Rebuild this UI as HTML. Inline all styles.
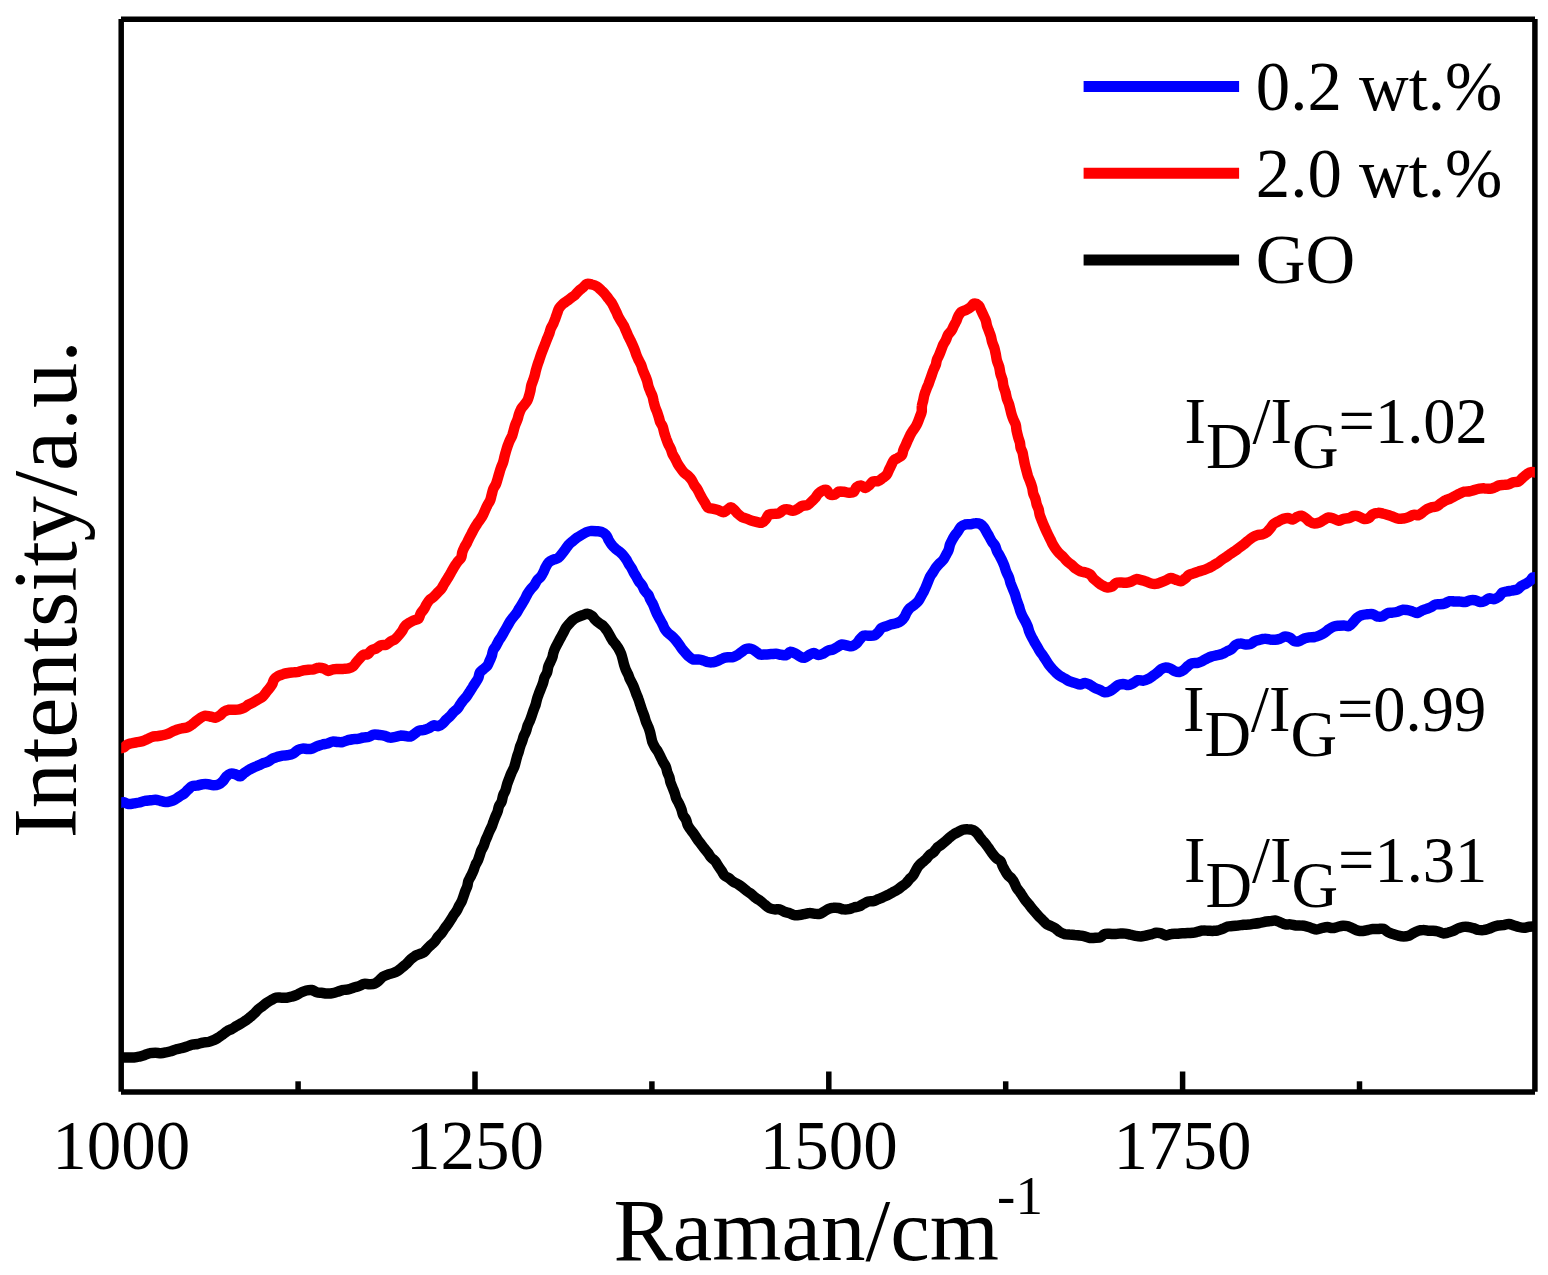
<!DOCTYPE html>
<html><head><meta charset="utf-8"><title>Raman spectra</title>
<style>
html,body{margin:0;padding:0;background:#fff;}
svg{display:block;}
text{font-family:"Liberation Serif",serif;fill:#000;}
</style></head>
<body>
<svg width="1548" height="1275" viewBox="0 0 1548 1275">
<rect width="1548" height="1275" fill="#fff"/>
<g stroke="#000" stroke-width="5.5" fill="none" stroke-linecap="butt">
<line x1="121.2" y1="19" x2="121.2" y2="1091.8"/>
<line x1="1534.9" y1="19" x2="1534.9" y2="1091.8"/>
<line x1="121" y1="19.3" x2="1535" y2="19.3"/>
<line x1="121" y1="1092.1" x2="1535" y2="1092.1"/>
<line x1="475.0" y1="1092.1" x2="475.0" y2="1071.5"/><line x1="828.8" y1="1092.1" x2="828.8" y2="1071.5"/><line x1="1182.6" y1="1092.1" x2="1182.6" y2="1071.5"/><line x1="298.1" y1="1092.1" x2="298.1" y2="1081.3"/><line x1="651.9" y1="1092.1" x2="651.9" y2="1081.3"/><line x1="1005.7" y1="1092.1" x2="1005.7" y2="1081.3"/><line x1="1359.5" y1="1092.1" x2="1359.5" y2="1081.3"/>
</g>
<defs><clipPath id="plotclip"><rect x="121.2" y="0" width="1413.7" height="1275"/></clipPath></defs>
<g fill="none" stroke-width="10.5" stroke-linejoin="round" stroke-linecap="butt" clip-path="url(#plotclip)">
<path stroke="#000" d="M113.2,1057.2C114.1,1057.3 116.8,1057.6 118.5,1057.6C120.3,1057.6 121.8,1057.4 123.6,1057.4C125.3,1057.3 127.3,1057.5 129.0,1057.5C130.8,1057.5 132.5,1057.7 134.2,1057.5C136.0,1057.4 137.7,1057.0 139.5,1056.5C141.3,1056.1 143.1,1055.5 144.9,1054.9C146.6,1054.4 148.4,1053.5 150.1,1053.2C151.9,1052.8 153.7,1052.8 155.4,1052.8C157.2,1052.8 159.0,1053.3 160.7,1053.3C162.5,1053.2 164.2,1052.8 166.0,1052.4C167.8,1052.1 169.6,1051.7 171.3,1051.1C173.1,1050.6 174.7,1049.8 176.5,1049.3C178.2,1048.7 180.0,1048.5 181.8,1048.0C183.6,1047.6 185.3,1047.1 187.0,1046.5C188.8,1046.0 190.4,1045.1 192.2,1044.7C193.9,1044.3 195.8,1044.3 197.6,1044.0C199.4,1043.6 201.1,1043.0 202.9,1042.6C204.7,1042.3 206.7,1042.4 208.4,1042.0C210.2,1041.6 211.9,1040.9 213.6,1040.2C215.3,1039.4 216.9,1038.5 218.5,1037.5C220.0,1036.5 221.5,1035.4 222.9,1034.4C224.3,1033.3 225.6,1032.1 227.1,1031.2C228.6,1030.3 230.3,1029.8 231.8,1029.0C233.4,1028.1 234.9,1027.0 236.4,1026.1C238.0,1025.2 239.6,1024.3 241.2,1023.4C242.7,1022.4 244.3,1021.5 245.9,1020.4C247.4,1019.3 249.0,1018.0 250.4,1016.9C251.8,1015.7 253.0,1014.7 254.3,1013.5C255.6,1012.3 256.7,1010.7 258.1,1009.5C259.4,1008.3 260.9,1007.4 262.4,1006.3C263.8,1005.2 265.1,1003.9 266.6,1002.9C268.1,1001.9 269.7,1000.9 271.3,1000.0C272.9,999.2 274.6,998.1 276.3,997.7C278.0,997.3 279.8,997.7 281.6,997.7C283.3,997.7 285.1,997.9 286.8,997.7C288.5,997.5 290.3,997.1 291.9,996.6C293.6,996.2 295.2,995.6 296.8,994.9C298.4,994.2 300.0,993.0 301.6,992.3C303.2,991.6 304.7,990.9 306.3,990.5C308.0,990.1 309.9,989.7 311.6,990.0C313.4,990.3 315.0,991.7 316.7,992.2C318.4,992.7 320.1,992.6 321.9,992.8C323.6,993.1 325.5,993.5 327.3,993.6C329.1,993.6 330.9,993.6 332.7,993.2C334.4,992.9 336.2,992.2 337.9,991.6C339.6,991.1 341.2,990.3 343.0,990.0C344.7,989.6 346.8,989.7 348.6,989.3C350.4,989.0 351.9,988.1 353.7,987.6C355.4,987.0 357.2,986.7 358.9,986.1C360.7,985.5 362.3,984.2 364.0,983.9C365.8,983.6 367.8,984.3 369.5,984.2C371.3,984.2 373.1,984.3 374.6,983.7C376.2,983.1 377.7,981.7 379.0,980.6C380.3,979.5 381.2,977.9 382.6,976.9C384.1,975.9 386.1,975.2 387.8,974.6C389.5,973.9 391.1,973.7 392.8,973.1C394.5,972.5 396.3,971.8 397.8,970.8C399.4,969.9 400.8,968.5 402.2,967.4C403.6,966.2 405.1,965.0 406.5,963.8C407.8,962.5 408.9,960.9 410.3,959.7C411.7,958.4 413.2,957.2 414.6,956.3C416.1,955.4 417.5,955.0 419.0,954.3C420.5,953.7 422.3,953.3 423.7,952.4C425.1,951.4 426.1,949.8 427.3,948.5C428.6,947.3 429.8,946.0 431.1,944.8C432.4,943.6 433.8,942.6 434.9,941.3C436.1,940.0 436.7,938.3 437.9,936.9C439.0,935.5 440.5,934.4 441.7,933.0C442.9,931.5 443.9,929.6 444.9,928.1C446.0,926.6 447.1,925.4 448.1,923.9C449.1,922.5 450.1,920.9 451.1,919.3C452.1,917.7 453.1,915.9 454.1,914.4C455.1,912.9 456.2,911.7 457.0,910.2C457.9,908.7 458.4,907.0 459.3,905.5C460.1,903.9 461.2,902.5 461.9,900.9C462.6,899.3 463.0,897.6 463.6,895.9C464.2,894.3 464.7,892.7 465.3,891.0C465.9,889.4 466.8,887.9 467.3,886.1C467.8,884.4 467.8,882.5 468.5,880.7C469.2,879.0 470.4,877.3 471.2,875.5C472.1,873.7 473.0,871.6 473.7,869.9C474.4,868.1 474.7,866.6 475.4,865.1C476.1,863.5 477.2,862.1 477.9,860.5C478.6,859.0 479.1,857.3 479.6,855.6C480.2,854.0 480.5,852.3 481.2,850.6C481.9,849.0 483.0,847.5 483.7,845.9C484.4,844.3 484.8,842.5 485.4,840.8C486.0,839.2 486.8,837.6 487.5,835.9C488.2,834.3 488.8,832.6 489.6,831.0C490.3,829.4 491.3,827.8 491.9,826.2C492.6,824.5 493.0,822.7 493.7,821.1C494.3,819.4 495.0,817.7 495.6,816.1C496.3,814.4 497.2,812.8 497.7,811.2C498.3,809.5 498.3,807.7 499.0,806.1C499.6,804.5 500.9,803.5 501.6,801.7C502.3,800.0 502.4,797.7 503.0,795.7C503.7,793.8 504.8,792.1 505.5,790.2C506.2,788.3 506.5,786.3 507.1,784.3C507.7,782.4 508.5,780.5 509.2,778.6C509.9,776.7 510.6,774.8 511.4,773.0C512.2,771.1 513.3,769.4 514.1,767.4C514.8,765.5 515.3,763.3 515.8,761.5C516.3,759.6 516.6,758.2 517.1,756.5C517.6,754.8 518.3,753.2 518.8,751.5C519.3,749.8 519.6,748.0 520.2,746.4C520.7,744.7 521.6,743.1 522.1,741.5C522.7,739.8 523.0,738.3 523.6,736.6C524.3,734.9 525.4,732.9 526.1,731.1C526.8,729.2 527.0,727.3 527.7,725.5C528.3,723.7 529.3,722.1 530.0,720.4C530.8,718.6 531.3,716.9 531.9,715.1C532.5,713.3 533.1,711.5 533.7,709.8C534.3,708.0 535.1,706.3 535.7,704.5C536.2,702.8 536.5,700.9 537.0,699.1C537.5,697.3 538.2,695.6 538.8,693.8C539.5,692.1 540.2,690.3 540.9,688.5C541.6,686.7 542.4,685.0 543.0,683.1C543.6,681.3 543.8,679.2 544.5,677.4C545.2,675.7 546.5,674.1 547.1,672.4C547.7,670.7 547.7,668.7 548.2,667.0C548.7,665.3 549.6,663.7 550.3,662.1C551.0,660.5 551.9,658.9 552.4,657.3C552.9,655.7 552.9,654.1 553.5,652.4C554.0,650.7 554.9,648.7 555.7,647.0C556.6,645.3 557.5,643.7 558.4,642.0C559.2,640.4 560.0,638.8 560.9,637.3C561.7,635.7 562.5,634.4 563.3,632.8C564.2,631.2 565.0,629.1 566.0,627.6C567.0,626.1 568.2,624.9 569.3,623.6C570.5,622.3 571.6,621.0 572.9,620.0C574.2,618.9 575.6,618.2 577.2,617.4C578.8,616.6 580.7,615.9 582.4,615.3C584.1,614.7 585.8,613.6 587.5,613.7C589.1,613.8 590.7,614.8 592.0,615.8C593.3,616.8 594.0,618.5 595.2,619.7C596.4,621.0 597.9,622.2 599.2,623.2C600.6,624.3 602.1,625.0 603.4,626.1C604.6,627.3 605.7,628.9 606.7,630.3C607.8,631.8 608.6,633.4 609.5,635.0C610.4,636.6 611.1,638.2 612.1,639.7C613.0,641.2 614.3,642.6 615.4,644.0C616.4,645.5 617.5,646.8 618.4,648.4C619.4,650.0 620.3,651.9 621.1,653.8C621.8,655.7 622.3,657.8 622.8,659.6C623.3,661.5 623.6,663.1 624.1,664.8C624.6,666.5 625.2,668.2 625.9,669.9C626.5,671.5 627.5,673.0 628.2,674.5C628.9,676.1 629.2,677.7 629.9,679.2C630.6,680.8 631.6,682.2 632.3,683.7C633.1,685.2 633.7,686.7 634.3,688.3C634.9,689.8 635.3,691.3 636.0,693.0C636.6,694.8 637.6,696.8 638.3,698.8C639.1,700.7 639.6,702.6 640.2,704.6C640.8,706.5 641.5,708.4 642.1,710.3C642.8,712.2 643.6,714.1 644.3,716.1C644.9,718.0 645.5,720.2 646.1,722.0C646.8,723.8 647.6,725.2 648.3,726.9C648.9,728.5 649.5,730.2 650.0,732.0C650.5,733.7 650.8,735.5 651.2,737.2C651.6,738.9 651.8,740.5 652.4,742.2C653.1,744.0 654.2,745.9 655.1,747.5C656.1,749.1 657.1,750.2 658.0,751.8C658.9,753.4 659.9,755.5 660.7,757.1C661.5,758.7 662.0,760.1 662.9,761.7C663.7,763.3 665.1,764.8 665.8,766.6C666.6,768.4 666.8,770.8 667.4,772.5C668.0,774.3 668.9,775.6 669.4,777.2C669.9,778.8 669.9,780.4 670.4,782.1C671.0,783.9 671.9,785.9 672.6,787.8C673.3,789.6 674.1,791.4 674.7,793.2C675.4,795.0 675.6,796.9 676.3,798.7C677.0,800.4 678.2,802.0 679.0,803.7C679.9,805.4 680.7,807.2 681.3,809.0C682.0,810.8 682.2,812.9 682.9,814.7C683.7,816.6 685.3,818.1 686.1,819.9C686.9,821.7 687.0,823.9 687.9,825.6C688.7,827.3 690.1,828.8 691.2,830.4C692.3,831.9 693.5,833.4 694.6,835.0C695.7,836.6 696.6,838.2 697.7,839.8C698.8,841.3 700.0,842.7 701.1,844.2C702.2,845.6 703.1,846.9 704.3,848.4C705.4,849.8 706.8,851.4 707.9,852.9C709.1,854.4 709.8,856.1 711.1,857.5C712.3,858.8 714.0,859.8 715.2,861.2C716.4,862.6 717.2,864.4 718.3,866.0C719.3,867.6 720.5,869.2 721.6,870.8C722.6,872.4 723.3,874.3 724.6,875.6C725.8,876.8 727.6,877.2 729.1,878.3C730.5,879.3 731.8,880.8 733.4,881.8C734.9,882.8 736.6,883.4 738.2,884.4C739.7,885.4 741.2,886.5 742.7,887.6C744.1,888.7 745.4,889.9 746.9,891.0C748.4,892.2 750.1,893.2 751.6,894.3C753.1,895.5 754.5,897.0 756.0,898.1C757.6,899.2 759.3,900.1 760.8,901.2C762.3,902.3 763.5,903.7 765.0,904.8C766.4,906.0 767.8,907.3 769.4,908.1C771.0,908.9 772.8,909.2 774.5,909.4C776.2,909.6 777.9,908.9 779.5,909.3C781.2,909.7 782.6,911.1 784.3,911.7C786.0,912.3 787.8,912.6 789.5,913.1C791.1,913.7 792.6,914.8 794.2,915.1C795.9,915.4 797.6,915.2 799.3,915.0C801.0,914.9 802.8,914.4 804.5,914.0C806.3,913.7 807.9,913.1 809.6,913.1C811.3,913.0 812.9,913.7 814.6,913.8C816.3,913.9 818.1,914.2 819.8,913.8C821.4,913.4 822.9,912.2 824.4,911.4C825.9,910.6 827.2,909.4 828.7,908.8C830.2,908.2 831.8,907.9 833.5,907.8C835.1,907.6 836.9,907.7 838.6,908.0C840.3,908.3 841.9,909.2 843.6,909.4C845.3,909.6 847.1,909.5 848.8,909.2C850.5,908.9 852.1,907.9 853.8,907.5C855.5,907.0 857.5,907.0 859.1,906.4C860.7,905.8 861.9,904.7 863.5,903.9C865.0,903.1 866.6,902.0 868.3,901.5C870.0,901.0 871.9,901.5 873.5,901.1C875.2,900.7 876.7,899.8 878.3,899.2C879.8,898.5 881.4,897.9 883.0,897.2C884.6,896.5 886.3,895.8 887.8,895.0C889.4,894.2 890.8,893.4 892.3,892.6C893.9,891.7 895.6,890.9 897.1,889.9C898.7,888.9 900.1,887.7 901.6,886.6C903.0,885.5 904.5,884.7 905.8,883.5C907.1,882.3 908.2,880.6 909.3,879.3C910.5,878.1 911.9,877.2 912.9,875.8C914.0,874.4 914.7,872.6 915.6,871.0C916.5,869.4 917.3,867.7 918.4,866.3C919.4,864.9 920.6,863.9 921.9,862.7C923.1,861.6 924.6,860.6 925.8,859.4C927.1,858.1 928.0,856.5 929.3,855.3C930.7,854.1 932.4,853.4 933.7,852.2C935.0,850.9 935.9,849.0 937.1,847.7C938.4,846.5 940.1,845.6 941.5,844.5C942.9,843.4 944.3,842.3 945.6,841.1C947.0,840.0 948.2,838.7 949.5,837.6C950.9,836.5 952.1,835.3 953.6,834.4C955.0,833.5 956.6,832.8 958.1,832.1C959.6,831.3 961.1,830.3 962.7,829.8C964.3,829.3 966.0,829.2 967.7,829.3C969.5,829.3 971.5,829.5 973.1,830.1C974.7,830.8 976.0,832.1 977.2,833.4C978.4,834.7 979.2,836.4 980.3,837.8C981.4,839.2 982.6,840.4 983.7,841.7C984.8,843.0 985.9,844.3 986.9,845.7C987.9,847.1 988.9,848.6 989.9,850.0C990.9,851.4 991.8,852.9 992.9,854.2C994.0,855.6 995.1,857.0 996.3,858.1C997.6,859.3 999.6,859.9 1000.6,861.2C1001.6,862.5 1001.8,864.3 1002.5,865.9C1003.2,867.4 1004.1,868.9 1004.9,870.4C1005.8,871.9 1006.7,873.6 1007.8,875.0C1008.9,876.3 1010.4,877.2 1011.5,878.4C1012.6,879.7 1013.5,881.1 1014.3,882.7C1015.2,884.2 1015.7,886.1 1016.6,887.7C1017.6,889.3 1018.9,890.6 1019.9,892.0C1020.9,893.5 1021.8,895.0 1022.8,896.5C1023.7,897.9 1024.6,899.3 1025.6,900.6C1026.7,901.9 1027.8,903.1 1028.9,904.4C1029.9,905.8 1030.9,907.2 1032.0,908.5C1033.1,909.9 1034.4,911.3 1035.6,912.7C1036.7,914.0 1037.7,915.2 1038.9,916.5C1040.1,917.7 1041.4,918.9 1042.6,920.1C1043.8,921.3 1044.9,922.8 1046.3,923.8C1047.8,924.8 1049.5,925.3 1051.1,926.1C1052.7,926.9 1054.3,927.7 1055.8,928.7C1057.2,929.7 1058.2,931.0 1059.7,931.9C1061.1,932.8 1062.8,933.6 1064.4,934.1C1066.1,934.5 1067.8,934.5 1069.5,934.6C1071.2,934.8 1072.9,934.8 1074.6,935.0C1076.3,935.1 1077.9,935.2 1079.5,935.5C1081.2,935.7 1083.0,935.9 1084.7,936.3C1086.4,936.7 1088.2,937.7 1090.0,938.0C1091.8,938.2 1093.8,938.0 1095.6,937.8C1097.4,937.7 1099.2,937.7 1100.6,937.1C1102.1,936.4 1103.0,934.6 1104.4,934.1C1105.9,933.5 1107.7,933.8 1109.4,933.8C1111.0,933.8 1112.7,934.1 1114.5,934.1C1116.2,934.1 1118.0,933.6 1119.8,933.6C1121.6,933.5 1123.3,933.4 1125.1,933.6C1126.8,933.8 1128.6,934.3 1130.3,934.7C1132.0,935.0 1133.7,935.6 1135.5,935.9C1137.3,936.2 1139.1,936.4 1140.8,936.4C1142.6,936.3 1144.4,935.8 1146.2,935.5C1147.9,935.2 1149.6,934.8 1151.3,934.3C1153.0,933.9 1154.7,933.0 1156.4,932.8C1158.0,932.7 1159.7,933.0 1161.4,933.4C1163.0,933.9 1164.6,935.3 1166.3,935.4C1167.9,935.5 1169.8,934.2 1171.5,934.0C1173.3,933.7 1175.1,933.9 1176.9,933.8C1178.7,933.7 1180.7,933.4 1182.4,933.3C1184.2,933.2 1185.9,933.2 1187.6,933.1C1189.3,933.1 1191.0,933.0 1192.7,932.8C1194.4,932.6 1196.0,932.1 1197.7,931.7C1199.3,931.3 1200.9,930.7 1202.6,930.6C1204.3,930.4 1205.9,930.6 1207.6,930.7C1209.3,930.7 1210.9,930.9 1212.6,930.9C1214.3,930.8 1215.9,930.8 1217.6,930.5C1219.2,930.1 1220.9,929.4 1222.6,928.8C1224.3,928.1 1226.0,927.0 1227.7,926.5C1229.4,926.1 1231.0,926.2 1232.7,926.0C1234.4,925.8 1236.1,925.6 1238.0,925.5C1239.8,925.3 1241.7,925.0 1243.5,924.8C1245.4,924.7 1247.1,924.7 1248.9,924.6C1250.6,924.4 1252.6,924.0 1254.3,923.7C1256.1,923.5 1257.7,923.3 1259.5,923.0C1261.2,922.6 1262.9,922.2 1264.7,921.8C1266.5,921.5 1268.5,921.3 1270.2,921.1C1272.0,920.9 1273.6,920.3 1275.2,920.5C1276.8,920.7 1278.3,921.6 1280.0,922.2C1281.6,922.8 1283.5,924.0 1285.3,924.3C1287.0,924.7 1288.5,924.2 1290.3,924.4C1292.1,924.6 1294.1,925.3 1295.9,925.5C1297.7,925.7 1299.5,925.4 1301.3,925.6C1303.1,925.7 1304.8,925.9 1306.4,926.3C1308.1,926.7 1309.6,927.5 1311.3,928.0C1313.0,928.5 1314.9,929.4 1316.7,929.4C1318.5,929.4 1320.3,928.4 1322.0,928.0C1323.8,927.6 1325.7,927.1 1327.4,927.1C1329.2,927.2 1330.8,928.2 1332.5,928.1C1334.2,928.1 1335.7,927.4 1337.4,927.0C1339.1,926.6 1341.1,925.8 1342.9,925.7C1344.6,925.6 1346.3,925.8 1348.0,926.3C1349.7,926.8 1351.6,927.9 1353.2,928.6C1354.9,929.3 1356.4,930.2 1358.0,930.6C1359.6,931.0 1361.4,931.1 1363.0,931.0C1364.7,930.9 1366.4,930.3 1368.0,930.0C1369.7,929.7 1371.3,929.1 1373.0,928.9C1374.7,928.8 1376.5,929.0 1378.2,929.0C1380.0,929.0 1381.8,928.3 1383.4,928.8C1385.0,929.3 1386.3,931.1 1387.8,931.9C1389.3,932.8 1390.9,933.3 1392.6,933.9C1394.3,934.6 1396.3,935.2 1398.2,935.6C1400.0,936.1 1402.0,936.5 1403.7,936.5C1405.5,936.5 1407.1,936.3 1408.7,935.8C1410.3,935.2 1411.6,934.1 1413.2,933.3C1414.7,932.4 1416.3,931.4 1417.9,930.9C1419.6,930.3 1421.4,930.0 1423.1,930.0C1424.8,929.9 1426.6,930.6 1428.3,930.8C1429.9,930.9 1431.3,930.7 1433.0,930.8C1434.6,930.9 1436.4,931.1 1438.1,931.5C1439.8,932.0 1441.5,933.2 1443.2,933.4C1444.9,933.5 1446.5,932.9 1448.2,932.5C1449.9,932.0 1451.6,931.5 1453.3,930.8C1454.9,930.1 1456.5,929.0 1458.2,928.4C1459.9,927.7 1461.6,927.2 1463.3,926.9C1465.0,926.7 1466.7,926.7 1468.4,927.0C1470.1,927.2 1471.6,927.7 1473.3,928.2C1474.9,928.6 1476.5,929.4 1478.2,929.8C1479.9,930.1 1481.6,930.3 1483.4,930.1C1485.1,930.0 1486.9,929.4 1488.5,928.9C1490.2,928.3 1491.5,927.6 1493.1,927.0C1494.7,926.5 1496.5,925.8 1498.2,925.5C1499.9,925.2 1501.8,925.3 1503.6,925.1C1505.4,924.8 1507.2,923.9 1508.9,924.0C1510.7,924.1 1512.2,925.0 1513.9,925.5C1515.6,926.0 1517.2,926.6 1518.9,927.0C1520.6,927.4 1522.3,927.8 1524.0,927.8C1525.7,927.7 1527.3,927.0 1529.1,926.8C1530.8,926.6 1532.5,926.6 1534.3,926.5C1536.1,926.4 1538.3,926.1 1539.7,926.2C1541.1,926.2 1542.4,926.5 1542.9,926.6"/>
<path stroke="#0000ff" d="M113.2,802.3C114.1,802.4 116.8,802.9 118.5,802.9C120.3,802.9 122.1,802.0 123.7,802.2C125.3,802.4 126.7,803.8 128.4,804.0C130.1,804.2 132.1,803.7 133.9,803.4C135.8,803.1 137.7,802.9 139.5,802.5C141.3,802.0 143.0,801.2 144.9,800.9C146.7,800.5 148.7,800.5 150.5,800.3C152.3,800.1 153.9,799.7 155.5,799.8C157.2,799.9 158.9,800.5 160.5,800.9C162.1,801.3 163.6,802.0 165.2,802.0C166.8,802.1 168.5,801.7 170.1,801.3C171.8,800.9 173.6,800.3 175.2,799.4C176.7,798.6 178.1,797.4 179.6,796.4C181.1,795.4 182.8,794.6 184.2,793.5C185.6,792.4 186.7,790.9 188.0,789.7C189.3,788.5 190.5,787.0 192.0,786.3C193.6,785.6 195.6,785.9 197.4,785.5C199.2,785.2 200.9,784.4 202.7,784.2C204.5,784.0 206.4,784.0 208.2,784.2C209.9,784.4 211.7,785.3 213.4,785.3C215.1,785.3 216.8,785.2 218.3,784.5C219.9,783.8 221.5,782.5 222.8,781.2C224.1,779.9 224.9,778.0 226.1,776.7C227.3,775.5 228.7,774.1 230.2,773.7C231.8,773.2 233.7,773.7 235.3,774.2C237.0,774.6 238.6,776.5 240.1,776.3C241.6,776.1 242.9,774.0 244.3,772.9C245.8,771.9 247.2,770.9 248.7,770.0C250.3,769.1 252.1,768.3 253.7,767.5C255.2,766.8 256.7,766.2 258.2,765.5C259.8,764.8 261.4,764.0 263.0,763.3C264.7,762.7 266.6,762.3 268.2,761.5C269.7,760.8 270.9,759.4 272.4,758.7C273.9,757.9 275.6,757.5 277.3,756.9C279.1,756.4 280.9,755.9 282.6,755.6C284.4,755.3 286.2,755.5 287.9,755.1C289.7,754.8 291.6,754.4 293.2,753.6C294.8,752.8 296.1,750.9 297.7,750.1C299.3,749.2 300.9,748.8 302.5,748.6C304.2,748.4 305.9,749.0 307.5,749.0C309.2,749.0 310.9,748.9 312.5,748.4C314.1,747.9 315.6,746.9 317.3,746.2C319.0,745.6 320.7,744.9 322.5,744.5C324.2,744.0 326.0,744.0 327.7,743.5C329.3,743.0 330.7,741.8 332.3,741.6C334.0,741.3 335.9,741.9 337.6,742.0C339.3,742.1 341.0,742.3 342.7,742.0C344.4,741.7 346.0,740.7 347.7,740.2C349.4,739.8 350.9,739.5 352.7,739.2C354.4,739.0 356.3,739.2 358.0,738.9C359.8,738.6 361.5,737.8 363.3,737.5C365.1,737.1 367.1,737.2 368.8,736.8C370.6,736.3 372.0,734.9 373.7,734.6C375.5,734.3 377.5,734.8 379.4,735.0C381.2,735.2 383.1,735.4 384.9,735.8C386.6,736.3 388.2,737.4 390.0,737.6C391.7,737.8 393.8,737.2 395.5,736.9C397.3,736.6 398.8,735.8 400.5,735.6C402.2,735.5 403.9,735.9 405.6,736.0C407.3,736.2 408.9,736.9 410.4,736.5C411.9,736.2 413.2,734.8 414.6,733.8C416.1,732.8 417.5,731.3 419.1,730.7C420.7,730.0 422.5,730.3 424.2,729.9C425.9,729.4 427.7,728.7 429.3,728.0C430.9,727.2 432.2,725.7 433.7,725.4C435.2,725.1 436.9,726.4 438.4,726.1C439.9,725.8 441.4,724.7 442.6,723.6C443.9,722.6 444.9,721.0 446.1,719.8C447.3,718.6 448.7,717.7 449.9,716.4C451.2,715.1 452.4,713.3 453.7,712.0C454.9,710.7 456.4,709.9 457.5,708.6C458.7,707.3 459.4,705.7 460.4,704.3C461.4,702.9 462.4,701.5 463.5,700.1C464.5,698.8 465.8,697.6 466.9,696.1C467.9,694.7 468.8,693.1 469.8,691.6C470.8,690.0 471.8,688.3 472.8,686.8C473.8,685.2 474.8,683.8 475.7,682.3C476.7,680.9 477.7,679.6 478.3,678.0C479.0,676.4 479.0,674.2 479.8,672.7C480.7,671.3 482.3,670.3 483.6,669.1C484.8,667.9 486.3,667.0 487.3,665.7C488.3,664.4 488.8,662.8 489.5,661.2C490.3,659.6 491.1,657.8 491.7,656.1C492.3,654.3 492.4,652.1 493.1,650.5C493.8,648.8 495.0,647.6 495.9,646.1C496.8,644.5 497.6,642.7 498.5,641.1C499.4,639.5 500.6,638.1 501.5,636.5C502.5,634.9 503.4,633.2 504.3,631.5C505.3,629.9 506.2,628.3 507.1,626.6C508.1,624.9 509.1,623.1 510.0,621.5C511.0,620.0 512.0,618.7 513.0,617.4C514.1,616.0 515.4,614.7 516.4,613.3C517.4,611.8 518.2,610.2 519.1,608.6C520.1,607.1 521.1,605.6 522.1,603.9C523.0,602.3 524.0,600.5 525.0,598.8C525.9,597.1 526.7,595.2 527.7,593.5C528.7,591.9 529.8,590.4 530.9,589.0C532.0,587.6 533.3,586.7 534.3,585.3C535.3,583.9 535.9,582.0 537.0,580.5C538.1,579.0 539.8,577.9 540.9,576.5C542.0,575.1 542.7,573.6 543.5,572.0C544.3,570.5 544.8,568.7 545.6,567.2C546.5,565.6 547.4,563.8 548.6,562.5C549.8,561.3 551.3,560.6 552.9,559.9C554.5,559.1 556.6,559.0 558.1,558.0C559.6,556.9 560.8,555.2 562.0,553.7C563.2,552.2 564.4,550.6 565.5,549.1C566.6,547.6 567.6,545.9 568.8,544.6C570.0,543.2 571.4,542.3 572.7,541.2C574.0,540.1 575.2,538.9 576.6,537.9C578.1,536.9 579.8,535.9 581.4,535.0C583.1,534.0 584.7,532.9 586.3,532.2C588.0,531.5 589.8,531.1 591.5,530.9C593.2,530.8 594.8,531.0 596.5,531.2C598.2,531.4 600.1,531.4 601.7,532.0C603.3,532.7 604.9,533.8 606.1,535.1C607.3,536.5 607.8,538.5 608.7,540.1C609.6,541.6 610.5,543.1 611.5,544.5C612.6,545.9 613.7,547.1 615.1,548.3C616.4,549.5 618.0,550.5 619.3,551.6C620.7,552.8 622.0,554.0 623.2,555.3C624.3,556.6 625.3,557.9 626.2,559.3C627.1,560.8 627.9,562.5 628.8,564.0C629.7,565.5 630.7,566.8 631.6,568.3C632.5,569.8 633.1,571.3 633.9,572.8C634.8,574.2 635.7,575.6 636.5,577.1C637.4,578.6 638.0,580.1 639.0,581.6C640.0,583.0 641.4,584.2 642.3,585.7C643.3,587.3 643.7,589.2 644.7,590.7C645.7,592.2 647.4,593.3 648.3,594.8C649.2,596.3 649.5,598.0 650.3,599.5C651.0,601.1 652.2,602.6 653.0,604.3C653.8,605.9 654.3,607.8 655.1,609.5C655.8,611.2 656.5,613.0 657.3,614.6C658.1,616.3 659.0,617.8 659.9,619.4C660.8,621.0 661.8,622.7 662.6,624.3C663.4,625.8 663.9,627.4 664.7,628.8C665.6,630.2 666.7,631.6 667.9,632.9C669.1,634.1 670.6,635.0 671.9,636.2C673.2,637.4 674.5,638.7 675.6,640.0C676.7,641.3 677.7,642.7 678.7,644.1C679.8,645.5 680.7,647.0 681.7,648.4C682.8,649.8 683.9,651.1 685.0,652.4C686.2,653.7 687.3,655.1 688.6,656.3C689.9,657.4 691.3,658.8 692.9,659.4C694.6,659.9 696.6,659.3 698.3,659.4C700.1,659.6 701.7,660.0 703.3,660.5C705.0,660.9 706.6,661.9 708.3,662.2C709.9,662.5 711.7,662.5 713.3,662.2C715.0,662.0 716.6,661.2 718.2,660.6C719.8,659.9 721.2,658.9 722.8,658.4C724.4,657.8 726.2,657.5 727.9,657.3C729.6,657.1 731.3,657.6 732.9,657.2C734.6,656.8 736.2,655.8 737.7,654.9C739.2,654.0 740.5,652.8 741.9,651.8C743.2,650.9 744.4,649.6 746.0,649.1C747.5,648.6 749.5,648.4 751.2,648.8C752.8,649.1 754.2,650.2 755.6,651.2C757.1,652.1 758.3,653.9 759.9,654.5C761.5,655.0 763.5,654.5 765.4,654.4C767.2,654.4 769.2,654.2 771.0,654.1C772.8,654.0 774.5,653.7 776.2,653.8C777.9,653.9 779.5,654.6 781.2,654.8C782.9,655.0 784.8,655.5 786.3,655.1C787.8,654.6 788.8,652.1 790.3,651.8C791.8,651.6 793.8,652.8 795.4,653.6C797.0,654.3 798.4,655.8 800.0,656.5C801.5,657.3 803.1,658.1 804.6,657.8C806.2,657.6 807.7,655.8 809.2,655.0C810.8,654.2 812.4,653.1 813.9,653.1C815.4,653.1 816.9,655.0 818.5,655.1C820.0,655.1 821.7,654.3 823.3,653.6C824.9,652.9 826.2,651.4 827.8,650.7C829.4,650.0 831.3,650.1 832.9,649.5C834.6,648.9 836.0,647.8 837.5,646.9C839.0,646.1 840.3,644.7 841.9,644.4C843.5,644.2 845.4,645.2 847.1,645.5C848.8,645.8 850.5,646.4 852.1,646.1C853.7,645.7 855.3,644.6 856.6,643.5C857.9,642.3 858.8,640.4 860.0,639.1C861.2,637.8 862.2,636.1 863.8,635.6C865.4,635.0 867.6,635.9 869.4,635.8C871.1,635.8 872.9,636.0 874.4,635.4C876.0,634.7 877.3,633.1 878.5,631.9C879.6,630.6 880.2,629.0 881.5,628.0C882.8,627.1 884.8,626.8 886.5,626.1C888.1,625.5 889.9,624.8 891.5,624.3C893.2,623.8 894.9,623.8 896.5,623.2C898.0,622.7 899.7,622.1 901.0,621.0C902.4,620.0 903.5,618.5 904.4,617.1C905.3,615.7 905.8,614.1 906.6,612.6C907.5,611.1 908.5,609.5 909.7,608.3C910.9,607.1 912.5,606.4 913.8,605.3C915.2,604.2 916.7,603.1 917.9,601.7C919.0,600.4 919.7,598.8 920.6,597.2C921.5,595.7 922.4,594.3 923.3,592.5C924.1,590.8 925.2,588.7 925.9,586.9C926.7,585.1 927.3,583.4 928.0,581.7C928.7,580.0 929.3,578.1 930.2,576.5C931.0,574.9 932.1,573.7 933.0,572.2C934.0,570.8 934.8,569.2 935.9,567.7C937.0,566.2 938.4,564.7 939.7,563.3C941.0,562.0 942.5,560.9 943.5,559.5C944.6,558.1 945.3,556.4 946.1,554.8C947.0,553.2 948.0,551.6 948.6,549.9C949.3,548.2 949.4,546.3 950.0,544.6C950.6,543.0 951.3,541.6 952.1,540.1C952.9,538.6 953.9,536.8 954.9,535.4C955.9,533.9 957.0,532.8 958.0,531.3C959.0,529.9 959.7,527.9 960.9,526.8C962.2,525.6 963.8,524.9 965.4,524.4C967.0,524.0 968.9,524.4 970.5,524.2C972.1,524.0 973.7,523.2 975.3,523.2C976.9,523.1 978.8,523.3 980.2,524.0C981.7,524.8 982.9,526.1 984.0,527.5C985.1,528.9 985.9,530.8 986.8,532.4C987.7,534.0 988.6,535.4 989.4,537.0C990.3,538.6 991.1,540.3 992.1,541.8C993.0,543.3 994.2,544.3 995.1,545.9C995.9,547.5 996.4,549.6 997.1,551.3C997.9,552.9 998.8,554.1 999.7,555.7C1000.5,557.4 1001.5,559.3 1002.3,561.0C1003.1,562.8 1003.8,564.4 1004.5,566.2C1005.1,567.9 1005.5,569.9 1006.3,571.7C1007.0,573.6 1008.2,575.3 1008.9,577.2C1009.6,579.0 1009.9,581.0 1010.5,583.0C1011.2,584.9 1012.0,586.8 1012.8,588.7C1013.5,590.6 1014.4,592.5 1015.1,594.5C1015.8,596.4 1016.1,598.5 1016.8,600.4C1017.4,602.3 1018.2,604.1 1018.8,606.0C1019.5,607.8 1019.9,609.8 1020.5,611.6C1021.2,613.4 1022.0,615.2 1022.8,616.9C1023.7,618.6 1024.8,620.2 1025.6,621.8C1026.4,623.5 1027.2,625.1 1027.8,626.7C1028.4,628.4 1028.6,630.0 1029.3,631.7C1030.0,633.4 1030.9,635.4 1031.8,637.1C1032.7,638.8 1033.6,640.4 1034.4,642.0C1035.3,643.5 1036.2,644.8 1037.1,646.4C1038.0,647.9 1038.8,649.7 1039.8,651.2C1040.7,652.8 1042.0,654.1 1043.0,655.6C1044.0,657.1 1044.9,658.6 1045.9,660.1C1046.8,661.6 1047.7,663.2 1048.8,664.7C1049.9,666.2 1051.1,667.5 1052.3,668.9C1053.6,670.2 1054.9,671.7 1056.2,672.9C1057.5,674.1 1058.8,675.2 1060.3,676.2C1061.7,677.1 1063.5,677.9 1065.1,678.7C1066.6,679.6 1068.1,680.7 1069.8,681.4C1071.5,682.1 1073.4,682.4 1075.1,683.0C1076.8,683.5 1078.4,684.5 1080.1,684.5C1081.8,684.4 1083.5,682.8 1085.2,682.9C1086.9,683.0 1088.8,684.3 1090.4,685.1C1092.0,685.9 1093.2,687.1 1094.8,687.9C1096.4,688.7 1098.4,689.3 1100.0,690.0C1101.6,690.8 1103.0,692.1 1104.6,692.3C1106.2,692.5 1108.0,691.9 1109.6,691.2C1111.2,690.5 1112.7,689.2 1114.1,688.2C1115.6,687.2 1116.7,685.8 1118.2,685.1C1119.7,684.4 1121.5,684.0 1123.2,683.9C1124.9,683.9 1126.7,685.2 1128.4,685.0C1130.1,684.9 1131.8,683.8 1133.4,683.0C1135.0,682.2 1136.5,680.6 1138.1,680.2C1139.8,679.8 1141.6,680.9 1143.3,680.7C1145.0,680.4 1146.9,679.6 1148.5,678.8C1150.1,677.9 1151.6,676.8 1153.1,675.7C1154.6,674.7 1156.1,673.6 1157.4,672.5C1158.8,671.4 1159.8,670.0 1161.2,669.1C1162.6,668.3 1164.1,667.5 1165.6,667.4C1167.2,667.3 1168.9,667.9 1170.4,668.5C1171.9,669.1 1173.1,670.5 1174.7,671.1C1176.2,671.7 1178.0,672.2 1179.5,672.0C1181.1,671.8 1182.6,670.8 1184.0,669.8C1185.4,668.8 1186.5,667.1 1187.9,666.0C1189.2,664.9 1190.6,663.8 1192.2,663.3C1193.8,662.8 1196.0,663.3 1197.7,662.9C1199.4,662.5 1200.9,661.7 1202.5,661.0C1204.1,660.2 1205.6,659.1 1207.2,658.4C1208.8,657.6 1210.5,656.9 1212.2,656.3C1213.8,655.8 1215.4,655.6 1217.1,655.2C1218.7,654.8 1220.5,654.6 1222.2,653.9C1223.8,653.3 1225.4,652.2 1227.0,651.4C1228.6,650.5 1230.3,649.9 1231.7,648.9C1233.2,647.8 1234.1,645.9 1235.6,645.0C1237.1,644.1 1238.8,643.6 1240.5,643.6C1242.1,643.5 1243.8,644.4 1245.5,644.5C1247.2,644.6 1249.0,644.5 1250.6,644.0C1252.1,643.4 1253.3,641.9 1254.8,641.2C1256.4,640.5 1258.2,640.1 1259.9,639.7C1261.5,639.2 1263.1,638.7 1264.8,638.7C1266.5,638.6 1268.5,639.4 1270.2,639.6C1271.9,639.8 1273.6,640.0 1275.2,639.8C1276.9,639.7 1278.5,639.2 1280.1,638.7C1281.7,638.2 1283.4,636.7 1285.0,636.6C1286.7,636.4 1288.4,637.0 1290.0,637.8C1291.6,638.6 1292.9,640.6 1294.4,641.2C1295.9,641.8 1297.5,641.6 1299.1,641.2C1300.7,640.8 1302.2,639.3 1303.9,638.7C1305.6,638.0 1307.5,637.7 1309.3,637.4C1311.1,637.1 1313.1,637.3 1314.8,637.0C1316.6,636.6 1318.3,635.9 1319.9,635.2C1321.5,634.5 1323.2,633.7 1324.7,632.7C1326.2,631.7 1327.4,630.3 1328.8,629.3C1330.3,628.3 1332.0,627.2 1333.6,626.6C1335.3,626.0 1337.0,625.9 1338.7,625.7C1340.4,625.5 1342.0,625.4 1343.8,625.4C1345.5,625.5 1347.6,626.6 1349.2,626.0C1350.8,625.5 1351.9,623.5 1353.2,622.2C1354.5,620.8 1355.5,619.2 1356.9,618.0C1358.3,616.9 1359.9,615.9 1361.6,615.2C1363.3,614.6 1365.3,614.5 1367.2,614.3C1369.0,614.2 1371.0,613.7 1372.7,614.1C1374.4,614.4 1375.7,616.2 1377.4,616.5C1379.1,616.9 1381.0,616.8 1382.7,616.3C1384.3,615.7 1385.6,613.9 1387.2,613.3C1388.8,612.7 1390.6,612.9 1392.3,612.6C1394.1,612.4 1395.9,612.2 1397.7,611.7C1399.4,611.2 1400.9,610.1 1402.6,609.8C1404.2,609.6 1405.9,609.9 1407.6,610.1C1409.2,610.4 1411.0,611.0 1412.6,611.5C1414.3,611.9 1415.8,613.1 1417.4,613.0C1418.9,612.8 1420.3,611.3 1421.9,610.6C1423.4,609.9 1425.2,609.5 1426.7,608.9C1428.3,608.3 1429.6,607.9 1431.1,607.1C1432.5,606.4 1434.0,604.9 1435.5,604.5C1437.0,604.0 1438.5,604.4 1440.0,604.2C1441.6,604.1 1443.3,603.9 1444.9,603.4C1446.5,602.9 1447.9,601.5 1449.6,601.2C1451.2,600.9 1453.0,601.5 1454.7,601.5C1456.4,601.6 1458.1,601.4 1459.8,601.5C1461.5,601.5 1463.2,602.2 1464.9,602.1C1466.6,601.9 1468.1,600.6 1469.8,600.3C1471.4,600.0 1473.2,600.0 1474.9,600.2C1476.6,600.5 1478.2,601.8 1479.8,601.9C1481.4,602.1 1483.0,601.7 1484.6,601.1C1486.1,600.5 1487.6,598.8 1489.2,598.4C1490.8,598.1 1492.6,599.4 1494.3,599.1C1495.9,598.7 1497.8,597.5 1499.2,596.5C1500.5,595.4 1501.1,593.4 1502.5,592.5C1503.8,591.7 1505.5,591.7 1507.1,591.4C1508.8,591.0 1510.6,590.9 1512.3,590.5C1514.0,590.2 1515.9,590.1 1517.5,589.4C1519.0,588.6 1520.0,586.9 1521.5,585.9C1523.0,585.0 1524.7,584.4 1526.2,583.6C1527.7,582.7 1529.2,581.7 1530.3,580.6C1531.4,579.6 1531.7,577.9 1533.0,577.3C1534.3,576.8 1536.4,577.5 1538.1,577.6C1539.7,577.6 1542.1,577.5 1542.9,577.5"/>
<path stroke="#ff0000" d="M113.2,748.3C114.1,748.3 116.8,748.5 118.5,748.4C120.2,748.3 121.9,748.3 123.4,747.6C124.9,747.0 126.1,745.2 127.6,744.4C129.1,743.7 130.8,743.4 132.4,743.1C134.0,742.7 135.7,742.5 137.4,742.2C139.1,741.9 140.9,741.6 142.6,741.1C144.2,740.6 145.7,739.8 147.3,739.1C148.8,738.4 150.3,737.4 151.9,736.9C153.5,736.4 155.2,736.4 156.9,736.2C158.6,736.0 160.3,735.8 162.0,735.4C163.7,735.1 165.4,734.8 167.0,734.2C168.7,733.6 170.2,732.7 171.8,731.9C173.4,731.2 175.0,730.3 176.7,729.7C178.3,729.1 180.1,728.6 181.8,728.3C183.5,727.9 185.3,728.1 186.9,727.6C188.5,727.0 189.9,726.0 191.4,725.0C192.8,724.0 194.3,722.6 195.7,721.5C197.1,720.4 198.4,719.4 199.9,718.4C201.3,717.5 202.7,716.1 204.4,715.8C206.1,715.4 208.2,716.2 210.0,716.5C211.9,716.8 213.8,717.8 215.4,717.7C217.1,717.5 218.4,716.6 219.8,715.6C221.2,714.7 222.3,712.8 223.8,711.8C225.2,710.9 226.9,710.2 228.6,709.8C230.4,709.5 232.5,709.8 234.3,709.8C236.1,709.7 237.7,709.7 239.4,709.3C241.1,708.9 242.9,708.3 244.5,707.5C246.0,706.6 247.3,705.3 248.9,704.4C250.4,703.5 252.1,703.1 253.6,702.2C255.1,701.4 256.4,700.4 257.9,699.5C259.4,698.6 261.2,697.9 262.5,696.8C263.9,695.7 264.7,694.1 265.8,692.8C266.9,691.4 267.8,690.3 268.9,688.9C269.9,687.5 271.3,686.0 272.1,684.5C273.0,682.9 273.0,680.9 274.1,679.5C275.1,678.2 276.7,677.0 278.2,676.1C279.7,675.2 281.5,674.7 283.2,674.1C284.8,673.6 286.4,673.3 288.1,673.0C289.8,672.7 291.7,672.6 293.5,672.4C295.2,672.2 296.8,672.1 298.5,671.8C300.1,671.4 301.7,670.6 303.3,670.3C305.0,670.0 306.9,670.0 308.6,669.8C310.3,669.6 312.0,669.6 313.7,669.3C315.3,668.9 317.0,667.9 318.7,667.8C320.4,667.6 322.3,668.0 323.9,668.5C325.5,669.0 326.8,670.8 328.3,670.9C329.9,671.0 331.4,669.6 333.0,669.3C334.6,668.9 336.3,669.1 338.0,669.0C339.7,669.0 341.6,669.0 343.3,668.9C345.1,668.7 346.9,668.7 348.5,668.3C350.2,667.9 351.8,667.3 353.1,666.3C354.4,665.3 355.2,663.6 356.3,662.3C357.4,661.0 358.6,659.7 359.7,658.5C360.8,657.3 361.8,655.8 363.1,655.0C364.4,654.3 366.2,654.9 367.6,654.2C369.0,653.4 369.9,651.4 371.4,650.4C372.8,649.5 374.7,649.3 376.2,648.5C377.8,647.6 379.0,646.1 380.7,645.4C382.3,644.8 384.5,645.4 386.1,644.8C387.8,644.2 389.0,642.6 390.5,641.6C392.0,640.7 393.7,640.2 395.1,639.2C396.5,638.1 397.7,636.5 398.9,635.1C400.1,633.7 401.2,632.4 402.2,630.9C403.1,629.5 403.7,627.6 404.8,626.3C405.9,625.0 407.4,624.0 408.9,623.1C410.3,622.1 411.9,621.2 413.5,620.5C415.1,619.8 417.3,620.0 418.5,618.8C419.7,617.7 419.7,615.1 420.7,613.4C421.6,611.8 423.1,610.5 424.1,608.9C425.1,607.4 425.7,605.6 426.6,604.1C427.5,602.6 428.4,601.1 429.6,599.9C430.7,598.7 432.4,598.0 433.7,596.7C435.1,595.5 436.4,593.9 437.6,592.6C438.8,591.3 440.1,590.4 441.2,589.0C442.2,587.6 443.0,585.9 443.9,584.4C444.8,582.9 445.6,581.5 446.5,580.1C447.4,578.7 448.3,577.3 449.2,575.8C450.0,574.3 450.8,572.8 451.7,571.2C452.6,569.7 453.6,568.0 454.5,566.4C455.5,564.9 456.3,563.6 457.3,562.2C458.4,560.7 460.2,559.4 461.1,557.7C461.9,556.1 461.8,553.9 462.3,552.2C462.8,550.5 463.5,549.1 464.3,547.5C465.1,545.9 466.3,544.2 467.1,542.6C467.9,541.0 468.5,539.4 469.3,537.9C470.1,536.4 470.9,534.9 471.7,533.4C472.5,531.9 473.2,530.3 474.1,528.7C475.0,527.2 476.0,525.7 477.0,524.1C478.0,522.6 479.1,521.1 480.1,519.6C481.1,518.1 482.1,516.7 482.9,515.1C483.8,513.5 484.4,511.6 485.2,509.9C486.0,508.3 486.6,506.7 487.4,505.2C488.3,503.6 489.4,502.3 490.1,500.6C490.8,498.9 491.1,496.9 491.6,495.0C492.2,493.1 492.5,491.0 493.2,489.2C493.9,487.4 495.3,485.8 496.0,484.0C496.8,482.2 497.1,480.4 497.7,478.6C498.2,476.8 498.7,475.0 499.3,473.1C499.8,471.2 500.4,469.2 501.1,467.4C501.7,465.6 502.6,464.1 503.1,462.3C503.7,460.6 504.0,458.6 504.5,456.7C504.9,454.9 505.5,453.0 506.0,451.2C506.6,449.4 507.0,447.8 507.6,446.0C508.3,444.2 509.1,442.2 509.8,440.4C510.6,438.7 511.6,437.1 512.3,435.3C512.9,433.6 513.3,431.6 513.8,429.8C514.3,428.1 514.6,426.6 515.2,424.9C515.8,423.2 516.8,421.5 517.4,419.7C518.1,417.9 518.3,416.1 518.9,414.3C519.5,412.6 520.3,410.6 521.1,409.0C522.0,407.5 523.0,406.5 524.0,405.2C525.1,403.8 526.5,402.3 527.3,400.7C528.2,399.2 528.5,397.6 529.0,396.0C529.5,394.4 529.9,392.8 530.3,391.1C530.7,389.3 530.8,387.3 531.3,385.5C531.8,383.7 532.6,381.9 533.2,380.2C533.7,378.6 534.2,377.1 534.7,375.4C535.2,373.7 535.5,371.8 536.0,370.1C536.4,368.4 536.9,366.8 537.4,365.2C537.9,363.6 538.5,362.0 539.1,360.4C539.6,358.8 540.1,357.1 540.7,355.4C541.3,353.7 542.0,351.9 542.7,350.1C543.4,348.3 544.2,346.4 544.9,344.5C545.7,342.7 546.3,340.8 547.0,339.0C547.7,337.3 548.4,335.8 549.1,334.1C549.7,332.3 550.1,330.2 550.8,328.5C551.5,326.8 552.5,325.5 553.3,323.8C554.0,322.1 554.7,320.1 555.4,318.3C556.0,316.6 556.6,314.8 557.2,313.1C557.8,311.5 558.2,309.9 559.1,308.3C560.0,306.8 561.5,305.2 562.8,304.0C564.1,302.8 565.6,302.1 566.9,301.1C568.3,300.1 569.6,299.0 571.0,298.0C572.4,296.9 573.9,296.0 575.2,294.8C576.5,293.6 577.6,292.1 578.9,290.9C580.2,289.7 581.7,288.7 583.0,287.5C584.3,286.4 585.3,284.4 586.8,283.9C588.2,283.4 590.0,284.0 591.7,284.5C593.4,284.9 595.4,285.6 596.9,286.5C598.5,287.5 599.7,288.9 601.1,290.1C602.4,291.4 603.6,292.5 604.8,293.9C606.0,295.3 607.1,296.9 608.3,298.4C609.5,300.0 610.8,301.5 611.8,303.0C612.8,304.6 613.3,306.0 614.1,307.5C614.8,309.0 615.6,310.6 616.4,312.1C617.1,313.7 617.7,315.3 618.5,316.9C619.3,318.4 620.2,319.9 621.1,321.4C622.0,322.9 623.1,324.3 623.9,325.9C624.7,327.5 625.3,329.2 626.1,331.0C626.8,332.7 627.6,334.7 628.4,336.4C629.2,338.0 630.0,339.4 630.7,340.9C631.5,342.5 632.2,344.1 632.9,345.7C633.6,347.3 634.3,348.9 634.9,350.6C635.5,352.2 636.0,353.9 636.6,355.5C637.3,357.1 638.0,358.7 638.7,360.2C639.5,361.8 640.5,363.3 641.2,365.0C641.9,366.7 642.2,368.5 642.9,370.3C643.6,372.2 644.6,374.2 645.3,375.9C646.0,377.7 646.6,379.1 647.1,380.8C647.6,382.4 647.8,384.0 648.3,385.8C648.8,387.6 649.7,389.7 650.4,391.4C651.1,393.1 651.8,394.4 652.4,396.1C653.0,397.8 653.3,399.8 653.7,401.7C654.2,403.5 654.6,405.5 655.2,407.2C655.7,408.9 656.5,410.2 657.1,411.9C657.7,413.6 658.3,415.8 658.9,417.5C659.4,419.3 659.7,420.8 660.3,422.4C661.0,423.9 662.1,425.2 662.8,426.9C663.4,428.7 663.7,431.0 664.3,432.9C664.9,434.9 665.6,436.7 666.2,438.6C666.9,440.4 667.5,442.3 668.3,444.1C669.1,445.8 670.2,447.5 670.9,449.2C671.6,450.9 671.9,452.7 672.6,454.3C673.4,456.0 674.5,457.3 675.3,458.8C676.1,460.4 676.6,461.9 677.5,463.5C678.4,465.0 679.5,466.7 680.6,468.2C681.6,469.7 682.6,471.2 683.9,472.5C685.1,473.7 686.8,474.5 688.1,475.8C689.4,477.1 690.8,478.6 691.8,480.1C692.8,481.6 693.3,483.2 694.2,484.7C695.1,486.2 696.5,487.7 697.4,489.2C698.4,490.8 699.0,492.5 699.8,494.0C700.6,495.5 701.3,496.8 702.2,498.4C703.1,499.9 704.2,501.7 705.2,503.2C706.2,504.8 706.8,506.9 708.2,507.8C709.6,508.8 712.0,508.4 713.7,508.8C715.4,509.2 716.9,509.6 718.5,510.2C720.1,510.8 722.0,512.2 723.3,512.2C724.7,512.2 725.4,511.1 726.7,510.3C727.9,509.4 729.6,507.3 730.9,507.3C732.2,507.2 733.3,508.9 734.5,510.1C735.7,511.2 736.9,512.9 738.1,514.0C739.4,515.2 740.6,516.3 742.1,517.1C743.7,517.9 745.7,518.3 747.3,518.9C748.9,519.5 750.3,520.3 751.9,520.8C753.5,521.3 755.2,521.7 756.9,522.0C758.6,522.3 760.5,523.0 762.0,522.6C763.5,522.1 764.8,520.6 765.9,519.2C767.0,517.9 767.3,515.5 768.6,514.6C770.0,513.7 772.2,514.1 773.9,513.9C775.7,513.6 777.7,513.9 779.2,513.2C780.8,512.6 781.8,510.6 783.2,510.0C784.7,509.3 786.4,509.3 788.0,509.4C789.6,509.6 791.2,510.9 792.8,510.8C794.5,510.7 796.3,509.5 797.9,508.7C799.4,507.9 800.5,506.6 802.1,506.0C803.8,505.4 806.1,505.8 807.6,505.1C809.2,504.3 810.3,502.8 811.5,501.6C812.7,500.4 813.9,499.3 815.1,498.0C816.2,496.7 817.0,495.0 818.2,493.7C819.4,492.5 821.1,491.2 822.5,490.6C823.9,489.9 825.5,489.3 826.7,489.9C827.9,490.5 828.4,493.6 829.8,494.4C831.1,495.1 833.3,495.1 834.8,494.6C836.3,494.2 837.3,492.1 838.9,491.6C840.4,491.2 842.3,491.6 843.9,491.8C845.6,492.0 847.2,492.7 848.8,492.7C850.5,492.8 852.5,492.9 853.8,492.0C855.0,491.1 855.2,488.4 856.4,487.3C857.6,486.3 859.5,485.5 861.0,485.6C862.5,485.7 864.1,488.1 865.5,487.9C867.0,487.8 868.4,486.0 869.7,484.9C871.0,483.8 871.8,482.0 873.2,481.4C874.6,480.7 876.6,481.7 878.2,481.1C879.7,480.6 881.1,479.2 882.6,478.1C884.0,477.0 885.8,476.0 886.8,474.6C887.9,473.2 888.3,471.4 889.0,469.8C889.7,468.3 890.5,466.8 891.3,465.2C892.1,463.6 892.7,461.6 893.8,460.4C894.8,459.2 896.2,459.0 897.5,458.2C898.9,457.3 900.9,456.6 901.9,455.2C902.8,453.9 902.8,451.7 903.4,450.0C904.1,448.4 904.9,446.8 905.7,445.2C906.4,443.6 907.0,442.0 907.7,440.4C908.5,438.9 909.1,437.2 909.9,435.7C910.7,434.1 911.5,432.6 912.5,431.1C913.5,429.5 914.9,427.9 915.8,426.4C916.7,424.9 917.3,423.4 918.0,421.8C918.7,420.2 919.3,418.5 919.9,416.8C920.5,415.1 921.4,413.5 921.7,411.7C922.0,409.9 921.6,408.0 921.9,406.1C922.1,404.3 922.8,402.3 923.2,400.5C923.6,398.6 923.9,396.7 924.4,394.9C924.9,393.1 925.5,391.4 926.2,389.7C926.8,388.0 927.7,386.1 928.4,384.5C929.0,382.8 929.5,381.3 930.1,379.6C930.7,377.9 931.4,375.9 932.0,374.2C932.6,372.6 933.0,371.1 933.7,369.5C934.3,367.9 935.3,366.4 935.8,364.8C936.4,363.2 936.3,361.6 936.9,359.8C937.5,358.1 938.7,356.3 939.4,354.6C940.1,352.9 940.7,351.2 941.3,349.6C942.0,348.0 942.4,346.5 943.1,344.9C943.9,343.3 945.1,341.6 945.9,339.9C946.7,338.3 947.0,336.6 947.9,335.0C948.9,333.5 950.5,332.1 951.5,330.6C952.5,329.1 953.0,327.5 953.8,325.9C954.6,324.3 955.6,322.6 956.4,321.0C957.1,319.3 957.5,317.6 958.3,316.1C959.2,314.6 960.1,312.9 961.3,311.9C962.6,310.9 964.3,310.8 965.9,310.0C967.4,309.2 969.1,308.4 970.4,307.3C971.8,306.2 972.6,304.0 974.0,303.6C975.4,303.3 977.4,304.2 978.6,305.4C979.8,306.5 980.3,308.7 981.1,310.3C981.9,312.0 982.6,313.6 983.4,315.2C984.2,316.9 985.2,318.7 985.8,320.4C986.4,322.1 986.4,323.7 986.9,325.5C987.4,327.2 988.2,328.9 988.8,330.7C989.5,332.5 990.3,334.2 990.8,336.1C991.4,338.0 991.5,340.0 992.1,341.9C992.7,343.8 993.6,345.8 994.3,347.8C994.9,349.8 995.3,352.0 995.8,354.2C996.2,356.3 996.4,358.6 997.0,360.7C997.6,362.9 998.7,364.9 999.2,367.0C999.8,369.1 999.9,371.3 1000.4,373.5C1000.9,375.6 1001.9,377.6 1002.4,379.7C1003.0,381.9 1003.0,384.2 1003.5,386.3C1004.0,388.4 1005.0,390.5 1005.5,392.5C1006.1,394.6 1006.3,396.7 1006.9,398.7C1007.5,400.6 1008.5,402.5 1009.1,404.3C1009.6,406.1 1009.9,407.9 1010.4,409.6C1010.8,411.4 1011.2,413.1 1011.7,414.8C1012.2,416.5 1012.8,418.1 1013.5,419.8C1014.2,421.5 1015.3,423.1 1015.8,425.0C1016.3,426.8 1016.2,429.0 1016.7,431.1C1017.1,433.2 1017.8,435.7 1018.3,437.6C1018.8,439.5 1019.5,440.8 1019.9,442.5C1020.3,444.2 1020.2,446.1 1020.6,447.8C1021.1,449.5 1022.1,451.0 1022.6,452.7C1023.0,454.3 1023.1,455.8 1023.5,457.7C1023.9,459.6 1024.3,462.0 1024.8,464.1C1025.3,466.2 1025.8,468.2 1026.4,470.3C1026.9,472.3 1027.4,474.3 1028.0,476.3C1028.7,478.2 1029.7,480.1 1030.3,482.0C1031.0,483.8 1031.7,485.7 1032.2,487.6C1032.7,489.5 1032.7,491.6 1033.2,493.4C1033.8,495.3 1034.8,497.0 1035.4,498.9C1036.0,500.7 1036.2,502.7 1036.7,504.5C1037.3,506.3 1038.2,507.9 1038.7,509.6C1039.2,511.3 1039.2,513.0 1039.7,514.7C1040.2,516.5 1041.1,518.5 1041.7,520.2C1042.4,521.9 1042.9,523.3 1043.6,524.9C1044.3,526.6 1045.2,528.4 1045.9,530.1C1046.7,531.7 1047.4,533.4 1048.2,535.0C1049.0,536.6 1049.8,538.2 1050.6,539.8C1051.4,541.3 1051.9,542.8 1052.8,544.4C1053.7,546.0 1054.8,547.7 1056.0,549.3C1057.1,550.8 1058.4,552.5 1059.7,553.8C1060.9,555.1 1062.2,555.9 1063.4,557.1C1064.7,558.4 1065.7,560.1 1067.1,561.3C1068.4,562.6 1070.0,563.5 1071.5,564.7C1072.9,565.9 1074.1,567.4 1075.6,568.6C1077.1,569.7 1078.9,570.7 1080.5,571.4C1082.2,572.0 1083.9,571.9 1085.5,572.4C1087.1,573.0 1088.9,573.5 1090.2,574.5C1091.6,575.6 1092.4,577.6 1093.7,578.9C1095.0,580.2 1096.5,581.2 1097.9,582.3C1099.3,583.4 1100.7,584.6 1102.3,585.4C1103.9,586.3 1105.7,587.3 1107.3,587.4C1109.0,587.6 1110.7,587.2 1112.2,586.5C1113.6,585.8 1114.4,583.7 1115.9,583.1C1117.4,582.4 1119.5,582.6 1121.2,582.6C1123.0,582.5 1124.6,583.0 1126.3,582.8C1128.0,582.6 1129.7,582.1 1131.3,581.5C1133.0,580.9 1134.5,579.3 1136.1,579.1C1137.8,578.8 1139.7,579.8 1141.3,580.2C1143.0,580.6 1144.5,581.0 1146.2,581.6C1147.8,582.1 1149.6,583.1 1151.2,583.5C1152.8,583.9 1154.3,584.1 1155.9,583.9C1157.6,583.7 1159.4,582.8 1161.1,582.2C1162.8,581.6 1164.5,580.9 1166.1,580.2C1167.7,579.5 1169.3,578.1 1170.8,578.0C1172.4,577.9 1173.8,579.0 1175.4,579.6C1177.1,580.1 1179.0,581.4 1180.7,581.2C1182.3,581.1 1183.8,579.5 1185.1,578.5C1186.5,577.5 1187.5,575.9 1188.9,575.0C1190.3,574.1 1192.1,573.9 1193.8,573.3C1195.4,572.7 1197.0,572.0 1198.7,571.5C1200.3,570.9 1202.1,570.6 1203.7,570.1C1205.4,569.5 1207.2,568.8 1208.7,568.1C1210.3,567.3 1211.7,566.4 1213.2,565.6C1214.6,564.7 1216.2,563.9 1217.7,562.9C1219.1,561.9 1220.5,560.8 1221.9,559.8C1223.4,558.7 1225.0,557.8 1226.4,556.8C1227.9,555.8 1229.3,554.7 1230.8,553.7C1232.3,552.6 1233.9,551.7 1235.4,550.7C1236.8,549.7 1238.1,548.5 1239.5,547.5C1240.9,546.5 1242.3,545.5 1243.7,544.4C1245.1,543.4 1246.3,542.1 1247.8,541.0C1249.2,539.9 1250.7,538.6 1252.2,537.6C1253.7,536.7 1255.3,535.8 1257.0,535.3C1258.6,534.7 1260.4,535.0 1262.0,534.5C1263.6,534.0 1265.4,533.3 1266.7,532.2C1268.1,531.2 1269.1,529.7 1270.3,528.3C1271.4,527.0 1272.3,525.2 1273.6,524.1C1274.9,523.0 1276.5,522.3 1278.0,521.5C1279.5,520.7 1281.0,519.7 1282.6,519.1C1284.3,518.6 1286.0,518.0 1287.7,518.0C1289.4,518.1 1291.2,519.7 1292.8,519.5C1294.4,519.3 1295.7,517.5 1297.2,516.8C1298.7,516.2 1300.2,515.4 1301.6,515.7C1303.1,515.9 1304.5,517.3 1305.9,518.3C1307.2,519.3 1308.2,520.8 1309.7,521.7C1311.1,522.6 1312.8,523.5 1314.4,523.6C1316.0,523.7 1317.8,523.1 1319.4,522.5C1320.9,521.8 1322.4,520.7 1324.0,519.9C1325.5,519.0 1326.9,517.7 1328.5,517.5C1330.1,517.3 1332.0,518.1 1333.6,518.6C1335.3,519.2 1336.8,520.6 1338.5,520.7C1340.2,520.7 1341.9,519.2 1343.6,518.8C1345.3,518.4 1347.1,518.6 1348.8,518.1C1350.4,517.7 1352.0,516.3 1353.6,516.0C1355.3,515.7 1357.1,515.9 1358.7,516.4C1360.4,516.9 1362.0,518.6 1363.6,518.9C1365.3,519.2 1367.0,518.9 1368.6,518.2C1370.1,517.4 1371.1,515.2 1372.7,514.3C1374.2,513.5 1376.1,513.0 1377.8,512.9C1379.5,512.7 1381.2,513.2 1382.9,513.6C1384.6,513.9 1386.4,514.5 1388.1,515.0C1389.8,515.6 1391.4,516.2 1393.1,516.8C1394.7,517.4 1396.3,518.4 1398.0,518.7C1399.7,519.0 1401.7,518.7 1403.5,518.5C1405.3,518.2 1407.0,517.7 1408.6,517.1C1410.3,516.5 1411.7,515.2 1413.4,514.9C1415.1,514.5 1417.2,515.5 1418.8,515.1C1420.4,514.6 1421.5,513.2 1422.9,512.2C1424.2,511.2 1425.5,510.0 1426.9,509.2C1428.4,508.4 1429.8,507.7 1431.4,507.3C1433.0,506.8 1435.0,507.1 1436.6,506.4C1438.2,505.8 1439.4,504.3 1440.8,503.3C1442.3,502.4 1443.7,501.3 1445.2,500.5C1446.8,499.8 1448.6,499.3 1450.2,498.6C1451.8,497.8 1453.4,496.9 1454.9,496.1C1456.5,495.3 1457.9,494.5 1459.4,493.8C1461.0,493.1 1462.6,492.1 1464.3,491.7C1466.0,491.3 1467.9,491.5 1469.7,491.2C1471.4,490.9 1473.0,490.3 1474.6,489.9C1476.3,489.4 1477.9,488.9 1479.6,488.6C1481.3,488.4 1483.2,488.3 1484.9,488.4C1486.7,488.4 1488.4,489.0 1490.0,488.8C1491.6,488.7 1493.0,488.0 1494.6,487.5C1496.1,486.9 1497.6,485.8 1499.2,485.4C1500.8,485.0 1502.5,485.1 1504.1,484.9C1505.7,484.7 1507.3,484.7 1508.9,484.2C1510.4,483.8 1511.8,482.7 1513.4,482.2C1515.1,481.7 1517.2,482.1 1518.7,481.4C1520.2,480.6 1521.3,478.9 1522.7,477.7C1524.0,476.6 1525.2,475.4 1526.6,474.4C1528.0,473.5 1529.4,472.4 1531.0,472.1C1532.7,471.7 1534.6,472.4 1536.4,472.6C1538.2,472.8 1540.7,473.2 1541.7,473.2C1542.8,473.2 1542.7,472.7 1542.9,472.6"/>
</g>
<g stroke-width="11" fill="none">
<line x1="1083.6" y1="86.5" x2="1239.1" y2="86.5" stroke="#0000ff"/>
<line x1="1083.6" y1="173.2" x2="1239.1" y2="173.2" stroke="#ff0000"/>
<line x1="1083.6" y1="259.9" x2="1239.1" y2="259.9" stroke="#000"/>
</g>
<g font-size="68.8">
<text x="1255.8" y="110">0.2 wt.%</text>
<text x="1255.8" y="196.7">2.0 wt.%</text>
<text x="1255.8" y="282.7">GO</text>
</g>
<text x="121.2" y="1168.6" text-anchor="middle" font-size="69">1000</text><text x="475.0" y="1168.6" text-anchor="middle" font-size="69">1250</text><text x="828.8" y="1168.6" text-anchor="middle" font-size="69">1500</text><text x="1182.6" y="1168.6" text-anchor="middle" font-size="69">1750</text>
<text x="1184.5" y="442.5" font-size="64.5">I<tspan dy="25">D</tspan><tspan dy="-25">/I</tspan><tspan dy="25">G</tspan><tspan dy="-25">=1.02</tspan></text>
<text x="1182.9" y="731.3" font-size="64.5">I<tspan dy="25">D</tspan><tspan dy="-25">/I</tspan><tspan dy="25">G</tspan><tspan dy="-25">=0.99</tspan></text>
<text x="1184" y="882.2" font-size="64.5">I<tspan dy="25">D</tspan><tspan dy="-25">/I</tspan><tspan dy="25">G</tspan><tspan dy="-25">=1.31</tspan></text>
<text x="613.5" y="1259.7" font-size="89">Raman/cm<tspan font-size="55" dy="-45.6" dx="-2">-1</tspan></text>
<text transform="translate(76.4,838.3) rotate(-90)" font-size="90.6">Intentsity/a.u.</text>
</svg>
</body></html>
